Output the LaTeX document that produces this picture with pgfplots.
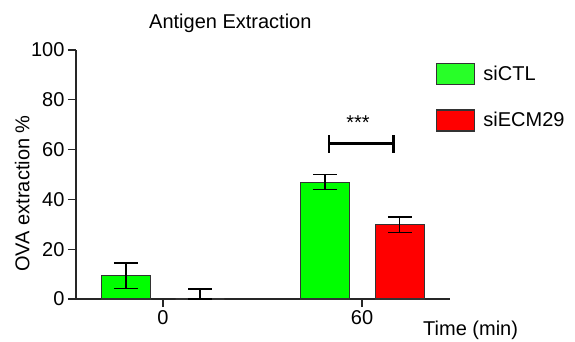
\documentclass[border=0pt]{standalone}
\usepackage{fontspec}
\setmainfont{Liberation Sans}
\usepackage{pgfplots}
\pgfplotsset{compat=1.18}
\definecolor{bargreen}{RGB}{0,255,0}
\definecolor{legreen}{RGB}{40,255,40}
\definecolor{barred}{RGB}{255,0,0}
\begin{document}
\begin{tikzpicture}
\path[use as bounding box] (0,0) rectangle (575pt,341pt);
\begin{axis}[
  at={(76pt,42pt)}, anchor=south west,
  scale only axis, width=374pt, height=249pt,
  xmin=-0.437, xmax=1.442, ymin=0, ymax=100,
  axis x line=bottom, axis y line=left,
  axis line style={line width=1.3pt, black!85, -},
  clip=false,
  xtick={0,1}, xticklabels={0,60},
  ytick={0,20,40,60,80,100},
  tick align=outside, major tick length=8pt,
  tick style={line width=1.3pt, black!85},
  /pgf/number format/assume math mode=true,
  tick label style={font=\fontsize{20}{24}\selectfont},
  ylabel={OVA extraction \%},
  ylabel style={font=\fontsize{20}{24}\selectfont, at={(axis description cs:-0.144,0.4237)}, anchor=center, rotate=0},
  legend style={draw=none, fill=none, inner sep=0pt, at={(axis description cs:0.9626,0.9478)}, anchor=north west, font=\fontsize{20}{24}\selectfont, row sep=24pt, nodes={inner sep=2pt}},
  legend cell align=left,
]
\addplot[ybar, bar width=0.246, bar shift=0pt, fill=bargreen, draw=black!80, line width=1.2pt,
  legend image code/.code={\draw[fill=legreen, draw=black!80, line width=1.2pt] (0pt,-10.5pt) rectangle (38pt,10.5pt);},
  error bars/.cd, y dir=both, y explicit,
  error bar style={line width=1.3pt, black},
  error mark options={line width=1.3pt, black, mark size=12pt, rotate=90}]
  coordinates {(-0.186,9.3) +- (0,5.2) (0.814,46.9) +- (0,3.0)};
\addlegendentry{\hspace{6pt}siCTL}
\addplot[ybar, bar width=0.246, bar shift=0pt, fill=barred, draw=black!80, line width=1.2pt,
  legend image code/.code={\draw[fill=barred, draw=black!80, line width=1.2pt] (0pt,-10.5pt) rectangle (38pt,10.5pt);},
  error bars/.cd, y dir=both, y explicit,
  error bar style={line width=1.3pt, black},
  error mark options={line width=1.3pt, black, mark size=12pt, rotate=90}]
  coordinates {(0.186,0) += (0,4.0) -= (0,0) (1.19,29.8) +- (0,3.1)};
\addlegendentry{\hspace{6pt}siECM29}
\addplot[black, line width=2.5pt, forget plot] coordinates {(0.833,62.5) (1.159,62.5)};
\addplot[black, line width=2.5pt, forget plot] coordinates {(0.833,58.8) (0.833,65.9)};
\addplot[black, line width=2.5pt, forget plot] coordinates {(1.159,58.8) (1.159,65.9)};
\node[anchor=base, font=\fontsize{20}{24}\selectfont, inner sep=0pt] at (axis cs:0.98,68.2) {***};
\end{axis}
\node[anchor=base west, inner sep=0pt, font=\fontsize{20}{24}\selectfont] at (149pt,312.7pt) {Antigen Extraction};
\node[anchor=base west, inner sep=0pt, font=\fontsize{20}{24}\selectfont] at (423pt,6pt) {Time (min)};
\end{tikzpicture}
\end{document}
